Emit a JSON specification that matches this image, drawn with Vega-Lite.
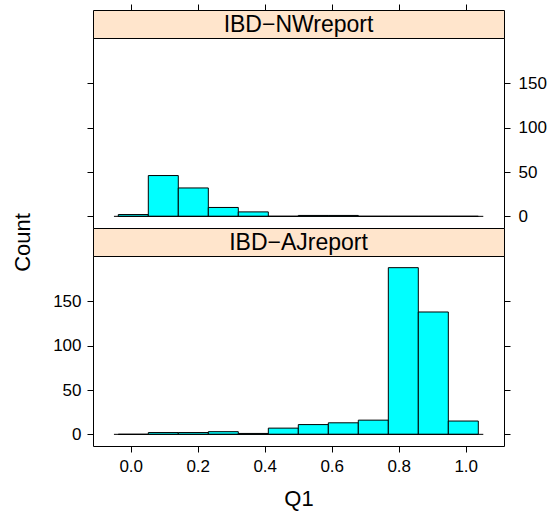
{
  "$schema": "https://vega.github.io/schema/vega-lite/v6.json",
  "padding": {"left": 10, "top": 3, "right": 5, "bottom": 5},
  "spacing": 0,
  "bounds": "flush",
  "config": {
    "font": "Liberation Sans",
    "view": {"stroke": "black", "strokeWidth": 1},
    "axis": {"labelFont": "Liberation Sans", "titleFont": "Liberation Sans", "labelColor": "black", "titleColor": "black", "tickColor": "black", "domain": false, "grid": false, "labelFontSize": 17, "titleFontSize": 22, "titleFontWeight": "normal", "tickSize": 6, "labelPadding": 6}
  },
  "datasets": {
    "bins": [
      {"panel": "NW", "lo": -0.0370, "hi": 0.0526, "count": 2},
      {"panel": "NW", "lo": 0.0526, "hi": 0.1421, "count": 46},
      {"panel": "NW", "lo": 0.1421, "hi": 0.2317, "count": 32},
      {"panel": "NW", "lo": 0.2317, "hi": 0.3212, "count": 10},
      {"panel": "NW", "lo": 0.3212, "hi": 0.4108, "count": 5},
      {"panel": "NW", "lo": 0.4108, "hi": 0.5003, "count": 0},
      {"panel": "NW", "lo": 0.5003, "hi": 0.5899, "count": 1},
      {"panel": "NW", "lo": 0.5899, "hi": 0.6794, "count": 1},
      {"panel": "NW", "lo": 0.6794, "hi": 0.7690, "count": 0},
      {"panel": "NW", "lo": 0.7690, "hi": 0.8585, "count": 0},
      {"panel": "NW", "lo": 0.8585, "hi": 0.9481, "count": 0},
      {"panel": "NW", "lo": 0.9481, "hi": 1.0376, "count": 0},
      {"panel": "AJ", "lo": -0.0370, "hi": 0.0526, "count": 0},
      {"panel": "AJ", "lo": 0.0526, "hi": 0.1421, "count": 2},
      {"panel": "AJ", "lo": 0.1421, "hi": 0.2317, "count": 2},
      {"panel": "AJ", "lo": 0.2317, "hi": 0.3212, "count": 3},
      {"panel": "AJ", "lo": 0.3212, "hi": 0.4108, "count": 1},
      {"panel": "AJ", "lo": 0.4108, "hi": 0.5003, "count": 7},
      {"panel": "AJ", "lo": 0.5003, "hi": 0.5899, "count": 11},
      {"panel": "AJ", "lo": 0.5899, "hi": 0.6794, "count": 13},
      {"panel": "AJ", "lo": 0.6794, "hi": 0.7690, "count": 16},
      {"panel": "AJ", "lo": 0.7690, "hi": 0.8585, "count": 188},
      {"panel": "AJ", "lo": 0.8585, "hi": 0.9481, "count": 138},
      {"panel": "AJ", "lo": 0.9481, "hi": 1.0376, "count": 15}
    ],
    "baseline": [{"lo": -0.05, "hi": 1.0525}]
  },
  "vconcat": [
    {
      "width": 411, "height": 28,
      "view": {"fill": "#ffe5cc", "stroke": "black"},
      "data": {"values": [{"label": "IBD−NWreport"}]},
      "mark": {"type": "text", "fontSize": 23, "font": "Liberation Sans", "color": "black", "dy": 1},
      "encoding": {
        "text": {"field": "label"},
        "x": {"datum": 0.5009, "type": "quantitative", "scale": {"domain": [-0.1125, 1.1143], "nice": false, "zero": false},
              "axis": {"orient": "top", "labels": false, "title": null, "values": [0, 0.2, 0.4, 0.6, 0.8, 1.0]}}
      }
    },
    {
      "width": 411, "height": 190,
      "layer": [
        {
          "data": {"name": "bins"},
          "transform": [{"filter": "datum.panel === 'NW'"}],
          "mark": {"type": "rect", "fill": "#00ffff", "stroke": "black", "strokeWidth": 1},
          "encoding": {
            "x": {"field": "lo", "type": "quantitative", "scale": {"domain": [-0.1125, 1.1143], "nice": false, "zero": false}, "axis": null},
            "x2": {"field": "hi"},
            "y": {"field": "count", "type": "quantitative", "scale": {"domain": [-13.16, 201.16], "nice": false, "zero": false},
                  "axis": {"orient": "right", "title": null, "values": [0, 50, 100, 150], "labelPadding": 8}},
            "y2": {"datum": 0}
          }
        },
        {
          "data": {"name": "baseline"},
          "mark": {"type": "rule", "color": "black", "strokeWidth": 1},
          "encoding": {
            "x": {"field": "lo", "type": "quantitative", "axis": null},
            "x2": {"field": "hi"},
            "y": {"datum": 0, "type": "quantitative", "axis": {"orient": "left", "labels": false, "title": null, "values": [0, 50, 100, 150]}}
          }
        }
      ],
      "resolve": {"axis": {"y": "independent"}}
    },
    {
      "width": 411, "height": 28,
      "view": {"fill": "#ffe5cc", "stroke": "black"},
      "data": {"values": [{"label": "IBD−AJreport"}]},
      "mark": {"type": "text", "fontSize": 23, "font": "Liberation Sans", "color": "black", "dy": 1},
      "encoding": {
        "text": {"field": "label"},
        "x": {"datum": 0.5009, "type": "quantitative", "scale": {"domain": [-0.1125, 1.1143], "nice": false, "zero": false}, "axis": null}
      }
    },
    {
      "width": 411, "height": 190,
      "layer": [
        {
          "data": {"name": "bins"},
          "transform": [{"filter": "datum.panel === 'AJ'"}],
          "mark": {"type": "rect", "fill": "#00ffff", "stroke": "black", "strokeWidth": 1},
          "encoding": {
            "x": {"field": "lo", "type": "quantitative", "scale": {"domain": [-0.1125, 1.1143], "nice": false, "zero": false},
                  "axis": {"orient": "bottom", "title": "Q1", "values": [0, 0.2, 0.4, 0.6, 0.8, 1.0], "format": ".1f", "labelPadding": 6, "titlePadding": 14}},
            "x2": {"field": "hi"},
            "y": {"field": "count", "type": "quantitative", "scale": {"domain": [-13.16, 201.16], "nice": false, "zero": false},
                  "axis": {"orient": "left", "title": "Count", "values": [0, 50, 100, 150], "titleX": -71, "titleY": -14, "titleBaseline": "middle", "titleAlign": "center", "titleAngle": -90}},
            "y2": {"datum": 0}
          }
        },
        {
          "data": {"name": "baseline"},
          "mark": {"type": "rule", "color": "black", "strokeWidth": 1},
          "encoding": {
            "x": {"field": "lo", "type": "quantitative"},
            "x2": {"field": "hi"},
            "y": {"datum": 0, "type": "quantitative", "axis": {"orient": "right", "labels": false, "title": null, "values": [0, 50, 100, 150]}}
          }
        }
      ],
      "resolve": {"axis": {"y": "independent"}}
    }
  ]
}
